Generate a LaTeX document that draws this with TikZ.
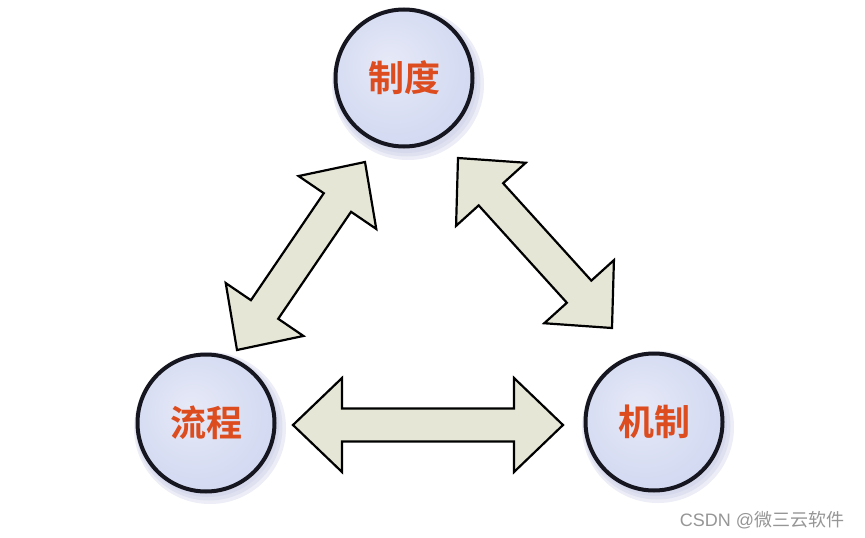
\documentclass[tikz,border=0pt]{standalone}
\usepackage{fontspec}
\usetikzlibrary{calc}
\newfontfamily\cjk{Noto Sans CJK SC}[BoldFont={Noto Sans CJK SC Bold}]
\newfontfamily\wmsans{Liberation Sans}
\definecolor{txtred}{RGB}{220,76,30}
\definecolor{arrfill}{RGB}{230,230,214}
\definecolor{ballin}{RGB}{230,233,247}
\definecolor{ballmid}{RGB}{210,217,241}
\definecolor{ballout}{RGB}{184,196,231}
\definecolor{shadowc}{RGB}{196,202,228}
\definecolor{ballline}{RGB}{22,22,32}
\definecolor{wmgray}{RGB}{150,150,150}
\pgfdeclareradialshading{ballshade}{\pgfpoint{-6bp}{6bp}}{color(0bp)=(ballin); color(28bp)=(ballmid); color(50bp)=(ballout)}
\newcommand\dblarrow[2]{%
\draw[blockarr] (#1) -- ($(#1)!49pt!(#2)!47pt!90:(#2)$) -- ($(#1)!49pt!(#2)!16.5pt!90:(#2)$) -- ($(#2)!49pt!(#1)!16.5pt!-90:(#1)$) -- ($(#2)!49pt!(#1)!47pt!-90:(#1)$) -- (#2) -- ($(#2)!49pt!(#1)!47pt!90:(#1)$) -- ($(#2)!49pt!(#1)!16.5pt!90:(#1)$) -- ($(#1)!49pt!(#2)!16.5pt!-90:(#2)$) -- ($(#1)!49pt!(#2)!47pt!-90:(#2)$) -- cycle;}
\tikzset{
  ball/.style={circle, minimum size=137pt, inner sep=0pt, line width=4pt, draw=ballline, shade, shading=ballshade, text=txtred, font=\cjk\bfseries\fontsize{36}{36}\selectfont},
  blockarr/.style={fill=arrfill, draw=black, line width=2.2pt, line join=miter},
  ballshadow/.style={fill=shadowc, opacity=0.32}
}
\begin{document}
\begin{tikzpicture}[x=1pt,y=-1pt]
\useasboundingbox[fill=white] (0,0) rectangle (865,538);
% shadows
\foreach \cx/\cy in {404/79,206/423,654/422}{
  \fill[ballshadow] ([shift={(4pt,-5pt)}]\cx,\cy) circle (76pt);
  \fill[ballshadow] ([shift={(3pt,-4pt)}]\cx,\cy) circle (73.5pt);
  \fill[ballshadow] ([shift={(2pt,-3pt)}]\cx,\cy) circle (71pt);
}
\node[ball] (z) at (404,78) {制度};
\node[ball] (l) at (206,423) {流程};
\node[ball] (j) at (654,422) {机制};
% arrow ends
\coordinate (la) at (237,350);
\coordinate (lb) at (365,162);
\coordinate (ra) at (458,158);
\coordinate (rb) at (612,328);
\coordinate (ha) at (293,425);
\coordinate (hb) at (563,425);
\dblarrow{la}{lb}
\dblarrow{ra}{rb}
\dblarrow{ha}{hb}
\node[text=wmgray, font=\fontsize{18}{18}\selectfont] (wm) at (762,520) {\wmsans CSDN @\cjk 微三云软件};
\end{tikzpicture}
\end{document}
